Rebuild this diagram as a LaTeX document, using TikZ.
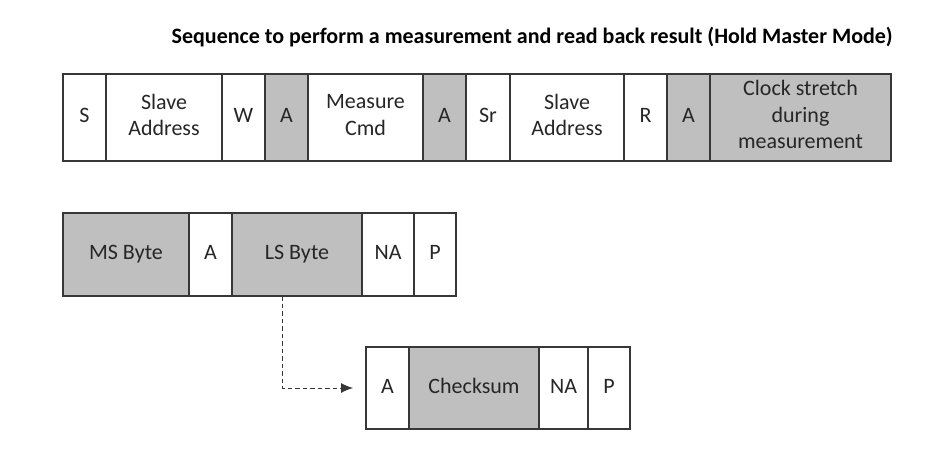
\documentclass[tikz,border=0pt]{standalone}
\usepackage{fontspec}
\setmainfont{Carlito}
\definecolor{fldgray}{RGB}{191,191,191}
\definecolor{fldline}{RGB}{55,55,55}
\definecolor{fldtext}{RGB}{38,38,38}
\usetikzlibrary{arrows.meta,positioning}
\newcommand{\fldstrut}{\rule[-5.5pt]{0pt}{21.5pt}}

\tikzset{
  fld/.style={draw=fldline, line width=1.1pt, outer sep=0pt, inner sep=0pt,
    align=center, text=fldtext, font=\fontsize{22}{26.5}\selectfont, minimum height=87pt,
    execute at begin node=\fldstrut, execute at end node=\fldstrut},
  shaded/.style={fld, fill=fldgray},
}

\begin{document}
\begin{tikzpicture}[x=1pt,y=-1pt]
  \useasboundingbox (0,0) rectangle (929,474);

  % Title
  \node[font=\bfseries\fontsize{22}{26}\selectfont, anchor=base east, inner sep=0pt] (title) at (893,43)
    {Sequence to perform a measurement and read back result (Hold Master Mode)};

  % Write frame and clock stretch
  \node[fld, minimum width=43pt, anchor=north west] (s) at (63,74) {S};
  \node[fld, minimum width=116pt, right=0pt of s] (addrw) {Slave\\Address};
  \node[fld, minimum width=43pt, right=0pt of addrw] (w) {W};
  \node[shaded, minimum width=43pt, right=0pt of w] (ackw) {A};
  \node[fld, minimum width=115pt, right=0pt of ackw] (cmd) {Measure\\Cmd};
  \node[shaded, minimum width=43pt, right=0pt of cmd] (ackcmd) {A};
  \node[fld, minimum width=44pt, right=0pt of ackcmd] (sr) {Sr};
  \node[fld, minimum width=114pt, right=0pt of sr] (addrr) {Slave\\Address};
  \node[fld, minimum width=43pt, right=0pt of addrr] (r) {R};
  \node[shaded, minimum width=43pt, right=0pt of r] (ackr) {A};
  \node[shaded, minimum width=181pt, right=0pt of ackr] (stretch) {Clock stretch\\during\\measurement};

  % Read back
  \node[shaded, minimum width=126pt, minimum height=83pt, anchor=north west] (msb) at (63,213) {MS Byte};
  \node[fld, minimum width=43pt, minimum height=83pt, right=0pt of msb] (ackmsb) {A};
  \node[shaded, minimum width=130pt, minimum height=83pt, right=0pt of ackmsb] (lsb) {LS Byte};
  \node[fld, minimum width=52pt, minimum height=83pt, right=0pt of lsb] (nalsb) {NA};
  \node[fld, minimum width=42pt, minimum height=83pt, right=0pt of nalsb] (plsb) {P};

  % Optional checksum
  \node[fld, minimum width=43pt, minimum height=82pt, anchor=north west] (acklsb) at (366,347) {A};
  \node[shaded, minimum width=130pt, minimum height=82pt, right=0pt of acklsb] (crc) {Checksum};
  \node[fld, minimum width=49pt, minimum height=82pt, right=0pt of crc] (nacrc) {NA};
  \node[fld, minimum width=42pt, minimum height=82pt, right=0pt of nacrc] (pcrc) {P};

  \draw[fldline, line width=0.9pt, dash pattern=on 4.5pt off 3pt, -{Latex[length=12pt,width=10pt]},
    shorten >=13pt] ([xshift=-15pt]lsb.south) |- (acklsb.west);
\end{tikzpicture}
\end{document}
